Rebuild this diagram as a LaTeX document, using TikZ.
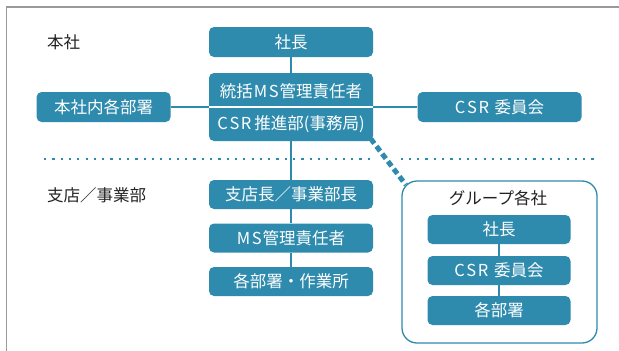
\documentclass[tikz,border=0pt]{standalone}
\usepackage{fontspec}
\setmainfont{Noto Sans CJK JP}
\usetikzlibrary{calc}
\definecolor{teal1}{HTML}{2E8BAD}
\definecolor{framegray}{HTML}{9A9A9A}
\definecolor{labeltxt}{HTML}{222222}
\newcommand\lsp{\kern1.6pt}
\tikzset{
  x=1pt, y=-1pt,
  box/.style={draw=none, fill=teal1, rounded corners=5pt, text=white,
    font=\fontsize{16.5}{18}\selectfont, inner sep=0pt, anchor=center},
  boxtext/.style={text=white, font=\fontsize{16.5}{18}\selectfont, inner sep=0pt},
  lbl/.style={text=labeltxt, font=\fontsize{16.5}{18}\selectfont, inner sep=0pt, anchor=west},
  conn/.style={draw=teal1, line width=2pt},
  dotline/.style={draw=teal1, line width=2.2pt, dash pattern=on 2.2pt off 6.1pt},
  dashconn/.style={draw=teal1, line width=5pt, dash pattern=on 6pt off 3.5pt},
}
\begin{document}
\begin{tikzpicture}
\useasboundingbox (0,0) rectangle (619,351);
% frame
\draw[framegray, line width=1.2pt] (6.7,351) -- (6.7,7) -- (619,7);

% labels
\node[lbl] (lhq) at (47,42) {本社};
\node[lbl] (lbr) at (47,195) {支店／事業部};

% dotted separator
\coordinate (d1) at (44,159.3);
\coordinate (d2) at (372,159.3);
\coordinate (d3) at (400.5,159.3);
\coordinate (d4) at (597,159.3);
\draw[dotline] (d1) -- (d2);
\draw[dotline] (d3) -- (d4);

% group outer box
\node[draw=teal1, line width=1.3pt, fill=white, rounded corners=15pt,
  minimum width=195pt, minimum height=162pt, inner sep=0pt] (grp) at (499.5,262) {};
\node[lbl, anchor=center] (grplbl) at (498,198) {グループ各社};

% head office nodes
\node[box, minimum width=164pt, minimum height=30pt] (pres) at (291,42) {社長};
\node[box, minimum width=164pt, minimum height=68pt] (main) at (291,107) {};
\node[boxtext] (mainA) at (291,91) {統括\kern1pt M\lsp S\kern1pt 管理責任者};
\node[boxtext] (mainB) at (291,124.5) {C\lsp S\lsp R\kern3pt 推進部(事務局)};
\draw[white, line width=1.5pt] (main.west) -- (main.east);
\node[box, minimum width=134pt, minimum height=30pt] (dept) at (103.6,107) {本社内各部署};
\node[box, minimum width=164pt, minimum height=30pt] (csr) at (499.6,107) {C\lsp S\lsp R\kern2pt\ 委員会};

% branch nodes
\node[box, minimum width=164pt, minimum height=29pt] (br1) at (291,194.5) {支店長／事業部長};
\node[box, minimum width=164pt, minimum height=29pt] (br2) at (291,238) {M\lsp S\kern1pt 管理責任者};
\node[box, minimum width=164pt, minimum height=29pt] (br3) at (291,281.5) {各部署・作業所};

% group nodes
\node[box, minimum width=143pt, minimum height=29pt] (g1) at (499,229.5) {社長};
\node[box, minimum width=143pt, minimum height=29pt] (g2) at (499,270.5) {C\lsp S\lsp R\kern2pt\ 委員会};
\node[box, minimum width=143pt, minimum height=29pt] (g3) at (499,310.5) {各部署};

% connectors
\draw[conn] (pres) -- (main);
\draw[conn] (dept) -- (main);
\draw[conn] (main) -- (csr);
\draw[conn] (main) -- (br1);
\draw[conn] (br1) -- (br2);
\draw[conn] (br2) -- (br3);
\draw[conn] (g1) -- (g2);
\draw[conn] (g2) -- (g3);

% dashed link to group
\coordinate (gc) at ($(grp.north west)+(4.5,4.5)$);
\coordinate (mc) at ($(main.south east)+(-2.5,-2.5)$);
\draw[dashconn] (mc) -- (gc);
\end{tikzpicture}
\end{document}
